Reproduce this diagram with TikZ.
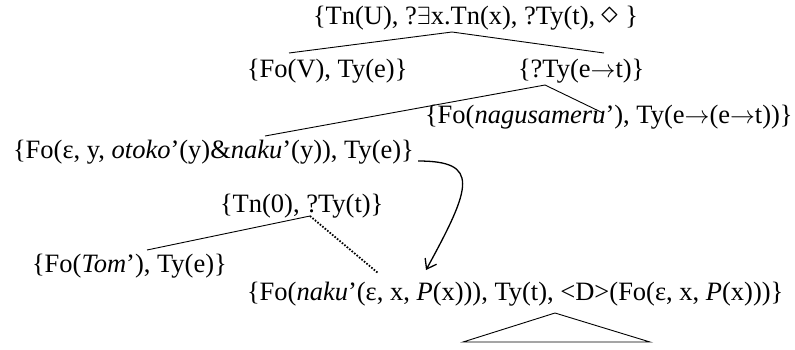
\documentclass[tikz,border=0pt]{standalone}
\usepackage{fontspec}
\usepackage{graphicx}
\setmainfont{Liberation Serif}
\usetikzlibrary{arrows.meta}
\newcommand{\myto}{\ensuremath{\to}}
\newcommand{\mydia}{\raisebox{0.5pt}{\scalebox{1.35}{$\diamond$}}}
\tikzset{
  lab/.style={anchor=base west, inner sep=0pt, outer sep=0pt, font=\fontsize{26.5}{30}\selectfont},
  branch/.style={line width=0.9pt},
  dotbranch/.style={line width=1.8pt, dash pattern=on 1.6pt off 1.6pt},
  linkarrow/.style={line width=1.3pt, -{Straight Barb[length=9pt,width=13pt,line width=1.3pt]}}
}
\begin{document}
\begin{tikzpicture}[x=1pt,y=-1pt]
\useasboundingbox (0,0) rectangle (795,349);
% nodes
\node[lab] (top) at (313,24) {\{Tn(U), ?$\exists$x.Tn(x), ?Ty(t), \mydia\ \}};
\node[lab] (fov) at (247,77) {\{Fo(V), Ty(e)\}};
\node[lab] (tyet) at (518,77) {\{?Ty(e\myto t)\}};
\node[lab] (nag) at (425,123) {\{Fo(\textit{nagusameru}’), Ty(e\myto(e\myto t))\}};
\node[lab] (eps) at (13,158) {\{Fo(ε, y, \textit{otoko}’(y)\&\textit{naku}’(y)), Ty(e)\}};
\node[lab] (tn0) at (220,212) {\{Tn(0), ?Ty(t)\}};
\node[lab] (tom) at (32,272) {\{Fo(\textit{Tom}’), Ty(e)\}};
\node[lab] (bot) at (247,300) {\{Fo(\textit{naku}’(ε, x, \textit{P}(x))), Ty(t), <D>(Fo(ε, x, \textit{P}(x)))\}};
% coordinates
\coordinate (a1) at (452,32);
\coordinate (a1l) at (289,53);
\coordinate (a1r) at (604,53);
\coordinate (a2) at (545,85);
\coordinate (a2l) at (265,136);
\coordinate (a2r) at (603,113);
\coordinate (a3) at (310,216);
\coordinate (a3l) at (147,250);
\coordinate (a3r) at (378,273);
\coordinate (cs) at (418,161);
\coordinate (ce) at (426,270);
\coordinate (t1) at (555,313);
\coordinate (t2) at (463,342);
\coordinate (t3) at (650,342);
% connectors
\draw[branch] (a1l) -- (a1) -- (a1r);
\draw[branch] (a2l) -- (a2) -- (a2r);
\draw[branch] (a3l) -- (a3);
\draw[dotbranch] (a3) -- (a3r);
\draw[linkarrow] (cs) .. controls (480,161) and (472,186) .. (ce);
\draw[branch] (t1) -- (t2) -- (t3) -- cycle;
\end{tikzpicture}
\end{document}
